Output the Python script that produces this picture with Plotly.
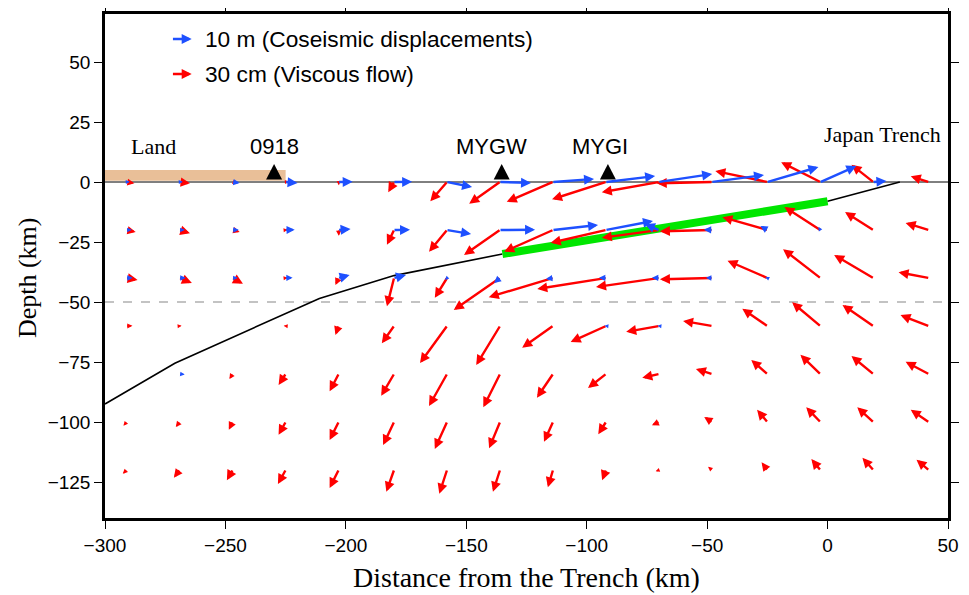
import math
import plotly.graph_objects as go

# ---------------- data ----------------
COLS_KM = [-291, -269, -247, -225, -203, -180, -158, -136, -114, -92, -70, -48, -25, -3, 19, 42]
ROWS_KM = [0, -20, -40, -60, -80, -100, -120]

# Viscous flow (cm): horizontal (U) and vertical (W) components, one list per depth row
RED_U = [
    [12, 16, 6, 5, 0.3, -9, -26, -48, -72, -84, -89, -86, -81, -61, -34, -28],
    [14, 16, 11, 3, 0.3, -11, -28, -56, -76, -86, -89, -81, -70, -56, -44, -36],
    [17, 19, 16, 3, -5, -11, -19, -72, -100, -107, -98, -81, -62, -58, -61, -47],
    [9, 3, 2, -3, -5, -19, -42, -37, -48, -55, -51, -45, -39, -44, -48, -44],
    [2, -2, -5, -11, -14, -20, -28, -26, -25, -28, -26, -25, -25, -31, -34, -36],
    [-5, -6, -6, -11, -14, -17, -19, -17, -14, -12, -11, -12, -16, -22, -25, -28],
    [-6, -9, -9, -12, -14, -12, -12, -11, -8, -6, -5, -6, -9, -14, -17, -19],
]
RED_W = [
    [-2, -2, -2, 0.3, -5, -16, -30, -34, -31, -27, -16, -2, 17, 31, 27, 9],
    [-3, -5, -3, 0.3, -9, -23, -34, -39, -34, -20, -12, -2, 20, 36, 28, 11],
    [-3, -8, -9, 0.3, -11, -44, -31, -50, -30, -17, -14, -2, 27, 45, 36, 9],
    [0.3, 0.3, 0.3, 0.3, -14, -27, -58, -61, -34, -25, -9, 8, 27, 37, 33, 17],
    [0.3, 0.3, -8, -17, -27, -34, -50, -52, -37, -22, -6, 8, 22, 30, 28, 19],
    [-6, -8, -12, -20, -28, -36, -42, -41, -31, -19, -5, 8, 19, 23, 23, 19],
    [-6, -12, -16, -22, -28, -34, -37, -34, -27, -16, -2, 5, 12, 17, 19, 16],
]

# Coseismic displacement (m)
BLUE_U = [
    [1.6, 1.6, 3.6, 6.2, 7.3, 9.4, 13.0, 16.1, 21.3, 25.5, 27.6, 27.0, 26.5, 18.7, 6.8, -0.5],
    [2.6, 2.6, 3.1, 4.7, 6.2, 8.3, 12.5, 18.2, 23.4, 24.4, -7.3, -4.2, -3.6, -1.0, -0.5, -0.5],
    [3.1, 3.1, 2.6, 3.6, 5.7, 6.2, -1.0, -3.1, -3.6, -3.6, -3.6, -3.1, -1.0, -0.5, -0.2, -0.3],
    [0.5, 0.3, 0.3, 0.3, 0.3, -0.3, -0.4, -0.6, -0.6, -0.8, -0.8, -0.4, -0.3, -0.3, -0.3, -0.3],
    [0.3, 2.6, 0.3, 0.3, 0.3, 0.3, 0.3, 0.3, 0.3, 0.3, -0.3, -0.3, -0.3, -0.3, -0.3, -0.3],
    [0.3, 0.3, 0.3, 0.3, 0.3, 0.3, 0.3, 0.3, 0.3, 0.3, -0.3, -0.3, -0.3, -0.3, -0.3, -0.3],
    [0.3, 0.3, 0.3, 0.3, 0.3, 0.3, 0.3, 0.3, 0.3, 0.3, -0.3, -0.3, -0.3, -0.3, -0.3, -0.3],
]
BLUE_W = [
    [0.1, 0.1, -0.5, -0.5, 0.1, 0.1, -2.6, -0.5, 1.6, 3.1, 4.2, 3.6, 7.8, 8.3, 0.5, 0.1],
    [0.1, 0.1, 0.1, 0.1, 0.5, 0.1, -2.1, 0.1, 2.6, 4.7, 3.1, 0.1, 2.1, 1.6, 0.5, 0.1],
    [0.1, 0.1, 0.1, 0.1, 1.6, 1.6, -1.0, -2.6, -0.5, 0.1, 0.1, 0.1, 0.5, 0.5, 0.5, 0.1],
    [0.1, 0.1, 0.1, 0.1, -0.2, -0.3, -0.3, -0.5, -0.3, 0.1, 0.1, 0.1, 0.2, 0.2, 0.2, 0.1],
    [0.3, -0.3, 0.3, 0.3, 0.3, 0.3, 0.3, 0.3, 0.3, 0.3, 0.3, 0.3, 0.3, 0.3, 0.3, 0.3],
    [0.3, 0.3, 0.3, 0.3, 0.3, 0.3, 0.3, 0.3, 0.3, 0.3, 0.3, 0.3, 0.3, 0.3, 0.3, 0.3],
    [0.3, 0.3, 0.3, 0.3, 0.3, 0.3, 0.3, 0.3, 0.3, 0.3, 0.3, 0.3, 0.3, 0.3, 0.3, 0.3],
]

# plate interface
SLAB_X = [-300, -271, -211, -180, -135]
SLAB_Y = [-92.5, -75.5, -48.5, -39, -30]
FAULT_X = [-135, 0]
FAULT_Y = [-30, -8]
TRENCH_X = [0, 30]
TRENCH_Y = [-8, 0]

STATION_NAMES = ["0918", "MYGW", "MYGI"]
STATION_X = [-229.8, -135.3, -91.2]
STATION_LABEL_X = [-229.8, -139.6, -94.5]

LAND_X = [-300, -225]

X_TICKS = [-300, -250, -200, -150, -100, -50, 0, 50]
Y_TICKS = [-125, -100, -75, -50, -25, 0, 25, 50]

LEGEND_BLUE_M = 10
LEGEND_RED_CM = 30

# ---------------- style ----------------
BLUE = "#1E50FF"
RED = "#FF0000"
GREEN = "#00E600"
KM_PER_M = 0.8           # arrow length scale for coseismic (km per m)
KM_PER_CM = 0.8 / 3.0    # arrow length scale for viscous flow (km per cm)
PX_X = 843 / 350.0
PX_Y = 504 / 210.0
SANS = "Liberation Sans, Arial, Helvetica, sans-serif"
SERIF = "Liberation Serif, Times New Roman, serif"

fig = go.Figure()

fig.add_trace(go.Scatter(x=SLAB_X, y=SLAB_Y, mode="lines",
                         line=dict(color="black", width=1.6), hoverinfo="skip"))
fig.add_trace(go.Scatter(x=FAULT_X, y=FAULT_Y, mode="lines",
                         line=dict(color=GREEN, width=8), hoverinfo="skip"))
fig.add_trace(go.Scatter(x=TRENCH_X, y=TRENCH_Y, mode="lines",
                         line=dict(color="black", width=1.6), hoverinfo="skip"))

shapes = []
shapes.append(dict(type="rect", xref="x", yref="y", x0=LAND_X[0], x1=LAND_X[1], y0=0.5, y1=5,
                   fillcolor="#E9BF98", line=dict(width=0), layer="below"))
shapes.append(dict(type="line", xref="paper", yref="y", x0=0, x1=1, y0=0, y1=0,
                   line=dict(color="black", width=1), layer="above"))
shapes.append(dict(type="line", xref="paper", yref="y", x0=0, x1=1, y0=-50, y1=-50,
                   line=dict(color="#888888", width=1.2, dash="dash"), layer="below"))
for sx in STATION_X:
    hw = 8 / PX_X
    shapes.append(dict(type="path", xref="x", yref="y",
                       path=f"M {sx-hw},1 L {sx+hw},1 L {sx},7.5 Z",
                       fillcolor="black", line=dict(width=0), layer="above"))

annotations = []


def arrow(x0, y0, dx, dy, color):
    lpx = math.hypot(dx * PX_X, dy * PX_Y)
    w = min(2.4, max(1.2, lpx / 4.0))
    head = min(10.0, max(4.0, 0.9 * lpx))
    size = max(0.3, head / (5.0 * w))
    return dict(x=x0 + dx, y=y0 + dy, ax=x0, ay=y0, xref="x", yref="y", axref="x", ayref="y",
                text="", showarrow=True, arrowhead=2, arrowsize=size, arrowwidth=w,
                arrowcolor=color, standoff=0, startstandoff=0, font=dict(size=1), borderpad=0)


for r, y0 in enumerate(ROWS_KM):
    for c, x0 in enumerate(COLS_KM):
        annotations.append(arrow(x0, y0, RED_U[r][c] * KM_PER_CM, RED_W[r][c] * KM_PER_CM, RED))
for r, y0 in enumerate(ROWS_KM):
    for c, x0 in enumerate(COLS_KM):
        annotations.append(arrow(x0, y0, BLUE_U[r][c] * KM_PER_M, BLUE_W[r][c] * KM_PER_M, BLUE))

# legend
annotations.append(arrow(-272, 59.6, LEGEND_BLUE_M * KM_PER_M, 0, BLUE))
annotations.append(arrow(-272, 45.0, LEGEND_RED_CM * KM_PER_CM, 0, RED))
annotations.append(dict(x=-259.5, y=59.6, xref="x", yref="y", text=f"{LEGEND_BLUE_M} m (Coseismic displacements)",
                        showarrow=False, xanchor="left", yanchor="middle",
                        font=dict(family=SANS, size=22.7, color="black")))
annotations.append(dict(x=-259.5, y=45.0, xref="x", yref="y", text=f"{LEGEND_RED_CM} cm (Viscous flow)",
                        showarrow=False, xanchor="left", yanchor="middle",
                        font=dict(family=SANS, size=22.7, color="black")))

for name, lx in zip(STATION_NAMES, STATION_LABEL_X):
    annotations.append(dict(x=lx, y=14.6, xref="x", yref="y", text=name, showarrow=False,
                            xanchor="center", yanchor="middle",
                            font=dict(family=SANS, size=22, color="black")))

annotations.append(dict(x=-280, y=14.6, xref="x", yref="y", text="Land", showarrow=False,
                        xanchor="center", yanchor="middle", font=dict(family=SERIF, size=22, color="black")))
annotations.append(dict(x=47.9, y=19.6, xref="x", yref="y", text="Japan Trench", showarrow=False,
                        xanchor="right", yanchor="middle", font=dict(family=SERIF, size=22, color="black")))

annotations.append(dict(x=0.5, y=-0.119, xref="paper", yref="paper", text="Distance from the Trench (km)",
                        showarrow=False, xanchor="center", yanchor="middle",
                        font=dict(family=SERIF, size=28, color="black")))
annotations.append(dict(x=-0.0925, y=0.476, xref="paper", yref="paper", text="Depth (km)", textangle=-90,
                        showarrow=False, xanchor="center", yanchor="middle",
                        font=dict(family=SERIF, size=26, color="black")))

axis_common = dict(showgrid=False, zeroline=False, showline=True, linecolor="black", linewidth=2.5,
                   mirror="ticks", ticks="outside", ticklen=8, tickwidth=1.3, tickcolor="black",
                   automargin=False,
                   tickfont=dict(family=SANS, size=19, color="black"))

# page body has an 8px default margin: figure sized/offset so the plot lands where the reference has it
fig.update_layout(
    width=961, height=587,
    margin=dict(l=97, r=21, t=6, b=77, autoexpand=False),
    paper_bgcolor="white", plot_bgcolor="white",
    showlegend=False,
    xaxis=dict(range=[-300, 50], tickvals=X_TICKS, **axis_common),
    yaxis=dict(range=[-140, 70], tickvals=Y_TICKS, **axis_common),
    shapes=shapes,
    annotations=annotations,
)

fig.write_html("out.html")
